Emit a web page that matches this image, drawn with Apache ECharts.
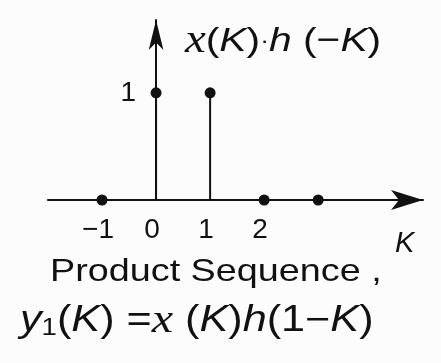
<!DOCTYPE html>
<html>
<head>
<meta charset="utf-8">
<script src="https://cdn.jsdelivr.net/npm/echarts@6/dist/echarts.min.js"></script>
<style>
  html, body { margin: 0; padding: 0; background: #fcfcfc; }
  #chart { width: 441px; height: 363px; }
</style>
</head>
<body>
<div id="chart"></div>
<script>
// Sample indices K and the product sequence x(K)·h(−K)
const kValues = [-1, 0, 1, 2, 3];
const productValues = [0, 1, 1, 0, 0];
// Tick labels shown on the axes
const xTickLabels = { '-1': '−1', '0': '0', '1': '1', '2': '2' };
const yTickLabels = { '1': '1' };

const INK = '#111111';
const SANS = 'Liberation Sans';
const SERIF = 'Liberation Serif';

const points = kValues.map((k, i) => [k, productValues[i]]);

const chart = echarts.init(document.getElementById('chart'), null, { renderer: 'canvas' });

chart.setOption({
  backgroundColor: '#fcfcfc',
  animation: false,
  grid: { left: 48, width: 375, top: 20, height: 180 },
  xAxis: {
    type: 'value',
    min: -2,
    max: 4.94,
    interval: 1,
    splitLine: { show: false },
    axisTick: { show: false },
    axisLine: {
      show: true,
      onZero: false,
      symbol: ['none', 'arrow'],
      symbolSize: [15, 32],
      lineStyle: { color: INK, width: 2 }
    },
    axisLabel: {
      color: INK,
      fontFamily: SANS,
      fontSize: 28,
      margin: 16,
      padding: [0, 8, 0, 0],
      showMinLabel: true,
      showMaxLabel: true,
      formatter: v => xTickLabels[String(v)] ?? ''
    }
  },
  yAxis: {
    type: 'value',
    min: 0,
    max: 1.68,
    interval: 1,
    splitLine: { show: false },
    axisTick: { show: false },
    axisLine: {
      show: true,
      onZero: true,
      symbol: ['none', 'arrow'],
      symbolSize: [11, 30],
      lineStyle: { color: INK, width: 2 }
    },
    axisLabel: {
      color: INK,
      fontFamily: SANS,
      fontSize: 28,
      // labels sit beside the zero-positioned axis line
      margin: -88,
      formatter: v => yTickLabels[String(v)] ?? ''
    }
  },
  series: [
    {
      // stems from the K axis up to each sample value
      type: 'custom',
      data: points,
      renderItem: (params, api) => {
        const k = api.value(0);
        const v = api.value(1);
        if (v === 0) return null;
        const base = api.coord([k, 0]);
        const tip = api.coord([k, v]);
        return {
          type: 'line',
          shape: { x1: base[0], y1: base[1], x2: tip[0], y2: tip[1] },
          style: { stroke: INK, lineWidth: 2 }
        };
      }
    },
    {
      // sample dots
      type: 'scatter',
      data: points,
      symbol: 'circle',
      symbolSize: 11,
      itemStyle: { color: INK, opacity: 1 },
      z: 5
    }
  ],
  graphic: [
    {
      type: 'text',
      x: 185, y: 22,
      scaleX: 1.2,
      style: {
        text: '{v|x}{p|(}{i|K}{p|)}{d|·}{i|h}{p| (−}{i|K}{p|)}',
        rich: {
          v: { fontFamily: SERIF, fontStyle: 'italic', fontSize: 39, fill: INK },
          p: { fontFamily: SANS, fontSize: 34, fill: INK },
          i: { fontFamily: SANS, fontStyle: 'italic', fontSize: 34, fill: INK },
          d: { fontFamily: SANS, fontSize: 22, fill: INK }
        }
      }
    },
    {
      type: 'text',
      x: 395, y: 229,
      style: { text: 'K', fontFamily: SANS, fontStyle: 'italic', fontSize: 29, fill: INK }
    },
    {
      type: 'text',
      x: 50, y: 256,
      scaleX: 1.18,
      style: { text: 'Product Sequence ,', fontFamily: SANS, fontSize: 32, fill: INK }
    },
    {
      type: 'text',
      x: 20, y: 301,
      scaleX: 1.2,
      style: {
        text: '{y|y}{s|1}{p|(}{i|K}{p|) =}{v|x}{p| (}{i|K}{p|)}{i|h}{p|(1−}{i|K}{p|)}',
        rich: {
          y: { fontFamily: SANS, fontStyle: 'italic', fontSize: 36, fill: INK },
          s: { fontFamily: SANS, fontSize: 23, fill: INK, padding: [15, 0, 0, 0] },
          v: { fontFamily: SERIF, fontStyle: 'italic', fontSize: 40, fill: INK },
          p: { fontFamily: SANS, fontSize: 36, fill: INK },
          i: { fontFamily: SANS, fontStyle: 'italic', fontSize: 36, fill: INK }
        }
      }
    }
  ]
});
</script>
</body>
</html>
